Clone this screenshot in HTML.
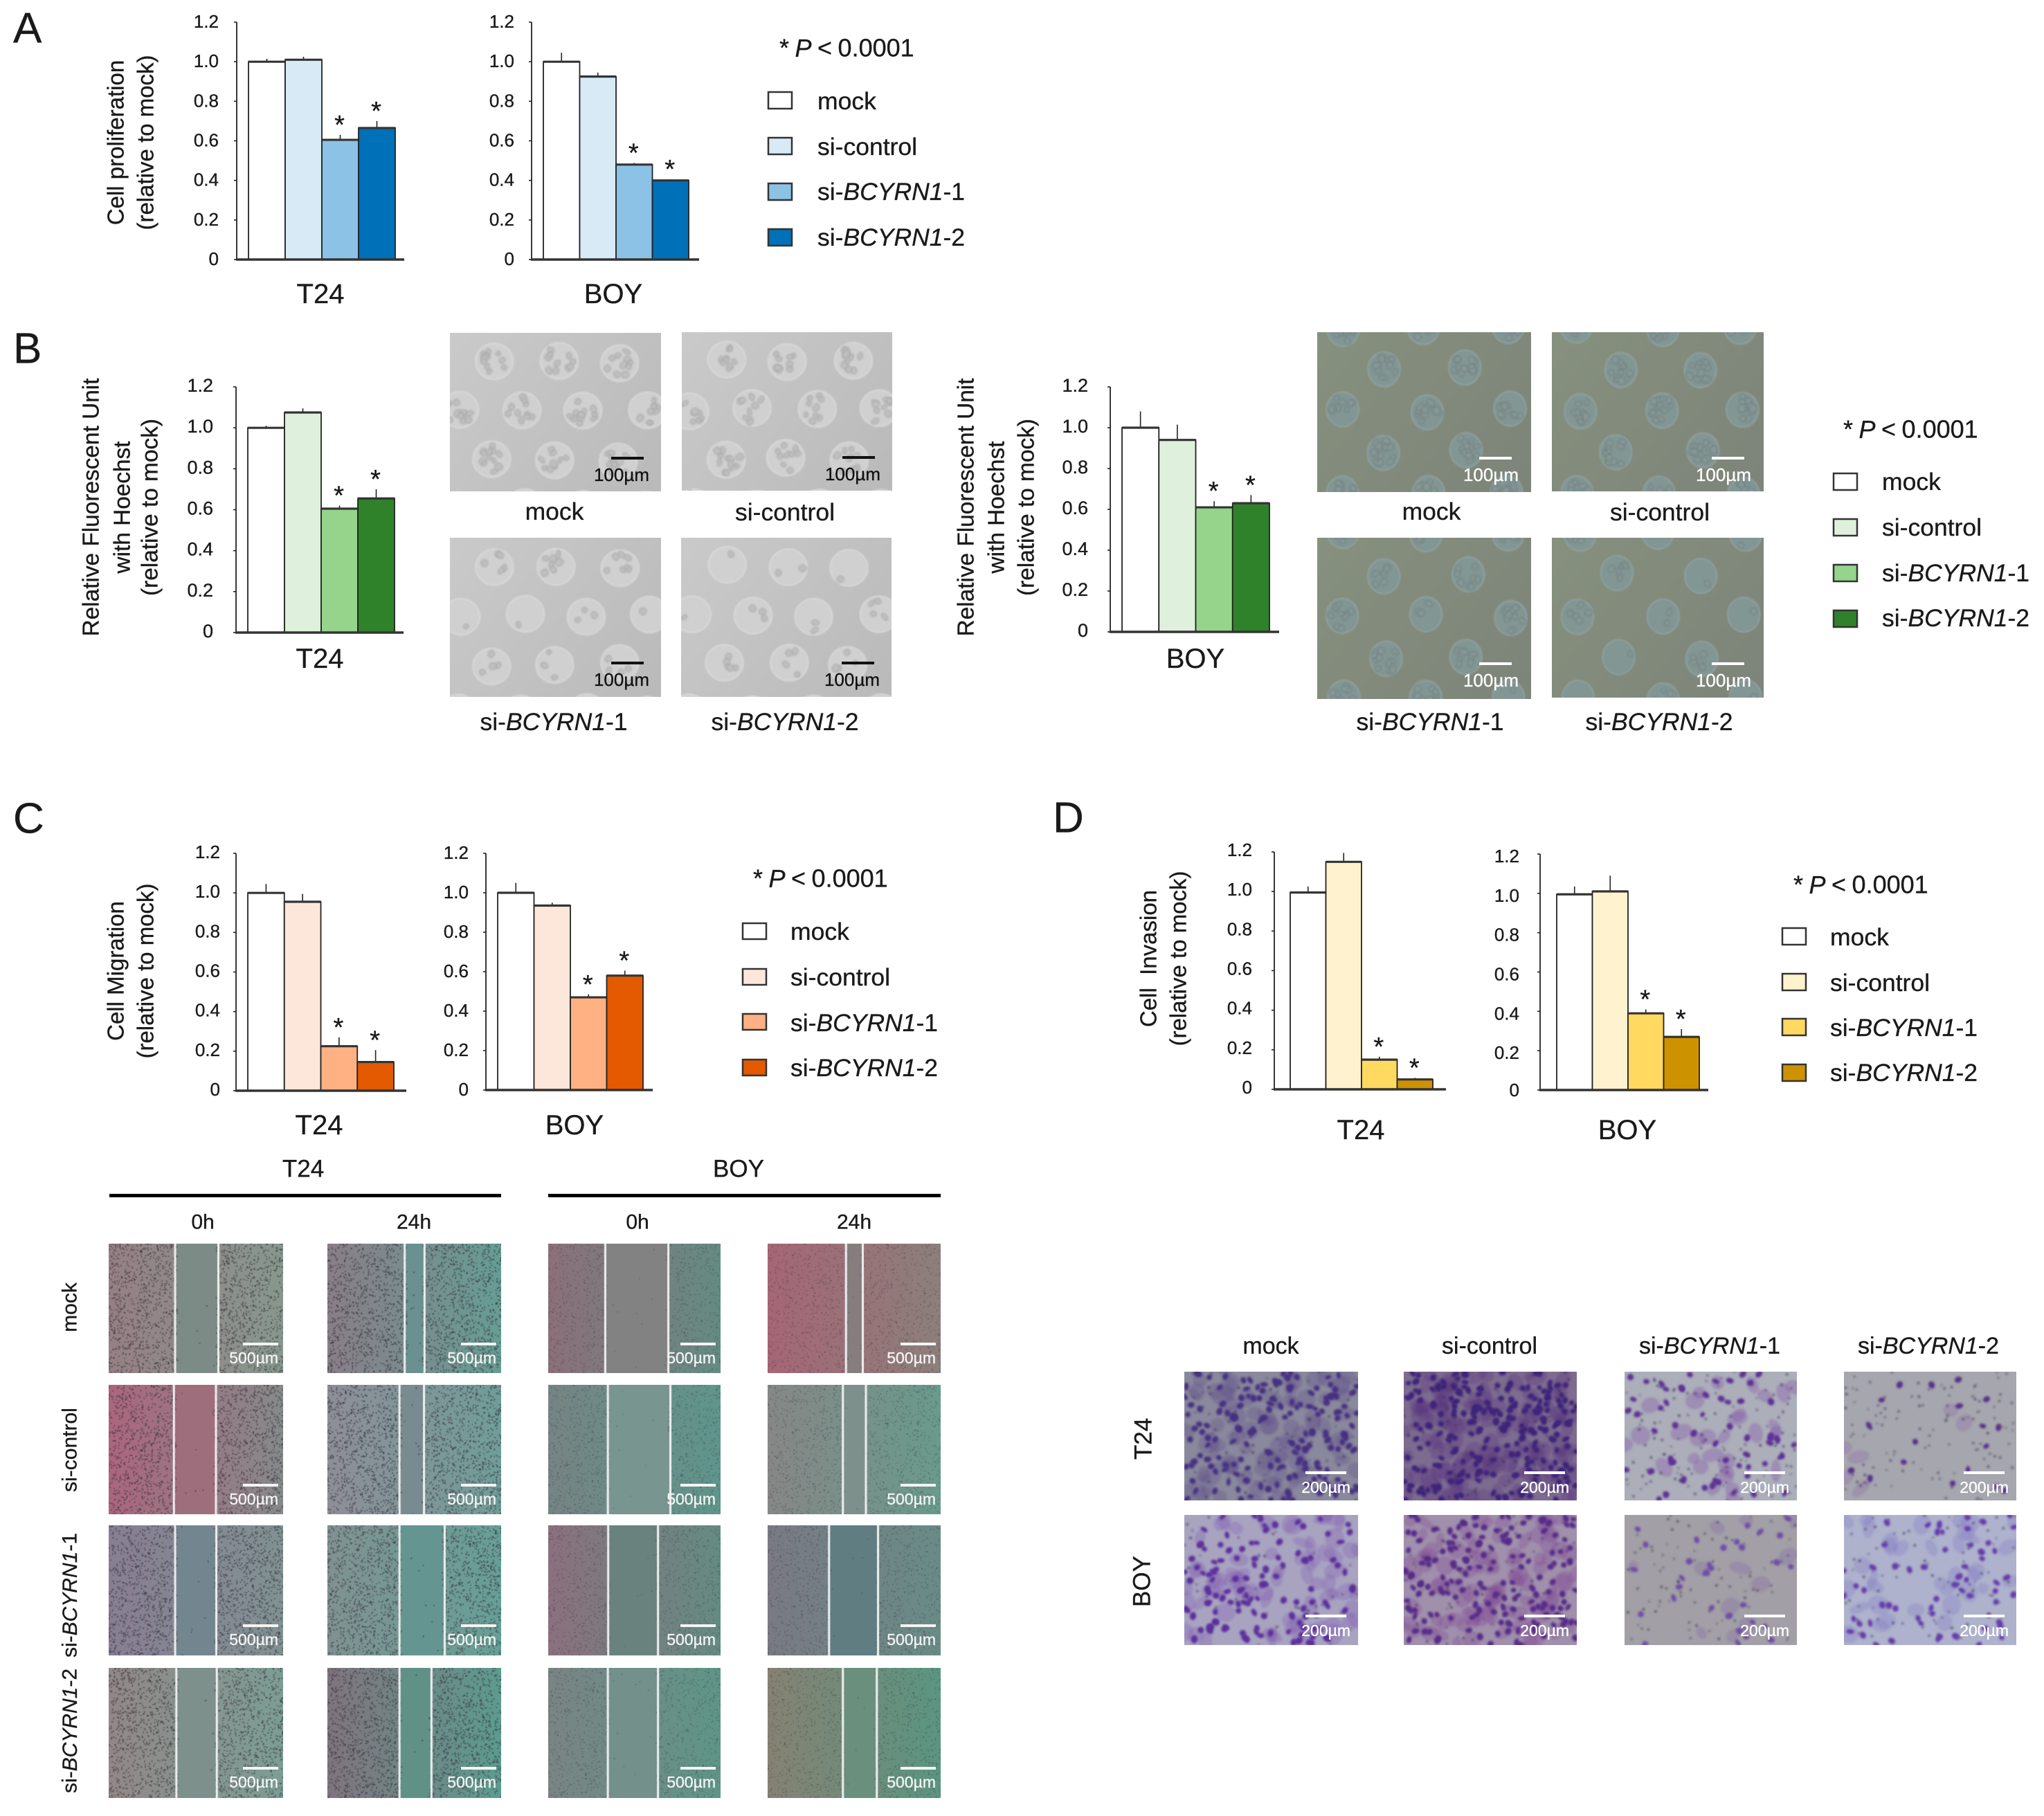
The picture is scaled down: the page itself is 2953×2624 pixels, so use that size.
<!DOCTYPE html>
<html lang="en">
<head>
<meta charset="utf-8">
<title>BCYRN1 knockdown figure</title>
<style>
html,body{margin:0;padding:0;background:#fff;}
#figure{position:relative;width:2953px;height:2624px;overflow:hidden;background:#fff;font-family:"Liberation Sans",sans-serif;}
#figure canvas{position:absolute;display:block;}
#overlay{position:absolute;left:0;top:0;}
#overlay text{font-family:"Liberation Sans",sans-serif;fill:#1a1a1a;dominant-baseline:central;stroke:#1a1a1a;stroke-width:.35px;}
.letter{font-size:62px;}
.leg{font-size:35.5px;}
.pval{font-size:36px;word-spacing:-1.5px;}
.cap{font-size:35.5px;text-anchor:middle;}
.ytitle{font-size:33px;text-anchor:middle;}
.ytitle2{font-size:33.4px;text-anchor:middle;}
.cell{font-size:40px;text-anchor:middle;}
.hdr{font-size:35px;text-anchor:middle;}
.time{font-size:30px;text-anchor:middle;}
.row{font-size:30px;text-anchor:middle;}
.inv{font-size:34px;text-anchor:middle;}
.swatch{stroke:#333;stroke-width:2.5;}
</style>
</head>
<body>
<div id="figure">
<svg id="overlay" xmlns="http://www.w3.org/2000/svg" width="2953" height="2624" viewBox="0 0 2953 2624">
  <!-- Panel letters -->
  <text class="letter" x="19" y="41">A</text>
  <text class="letter" x="19" y="504">B</text>
  <text class="letter" x="19" y="1183">C</text>
  <text class="letter" x="1521" y="1182">D</text>

  <!-- Panel A titles -->
  <text class="ytitle" transform="rotate(-90 167 206)" x="167" y="206">Cell proliferation</text>
  <text class="ytitle" transform="rotate(-90 210 206)" x="210" y="206">(relative to mock)</text>
  <text class="cell" x="463" y="425">T24</text>
  <text class="cell" x="886" y="425">BOY</text>
  <g>
    <text class="pval" x="1126" y="69">* <tspan font-style="italic">P</tspan> &lt; 0.0001</text>
    <rect class="swatch" x="1110" y="133" width="34" height="24" fill="#ffffff"/>
    <rect class="swatch" x="1110" y="199" width="34" height="24" fill="#d9eaf7"/>
    <rect class="swatch" x="1110" y="265" width="34" height="24" fill="#8cc2e6"/>
    <rect class="swatch" x="1110" y="331" width="34" height="24" fill="#0070b8"/>
    <text class="leg" x="1181" y="146">mock</text>
    <text class="leg" x="1181" y="212">si-control</text>
    <text class="leg" x="1181" y="277">si-<tspan font-style="italic">BCYRN1</tspan>-1</text>
    <text class="leg" x="1181" y="343">si-<tspan font-style="italic">BCYRN1</tspan>-2</text>
  </g>

  <!-- Panel B titles -->
  <text class="ytitle2" transform="rotate(-90 132 733)" x="132" y="733">Relative Fluorescent Unit</text>
  <text class="ytitle2" transform="rotate(-90 177 733)" x="177" y="733">with Hoechst</text>
  <text class="ytitle2" transform="rotate(-90 217 733)" x="217" y="733">(relative to mock)</text>
  <text class="cell" x="462" y="952">T24</text>
  <text class="ytitle2" transform="rotate(-90 1396 733)" x="1396" y="733">Relative Fluorescent Unit</text>
  <text class="ytitle2" transform="rotate(-90 1440 733)" x="1440" y="733">with Hoechst</text>
  <text class="ytitle2" transform="rotate(-90 1483 733)" x="1483" y="733">(relative to mock)</text>
  <text class="cell" x="1727" y="952">BOY</text>
  <text class="cap" x="801" y="739">mock</text>
  <text class="cap" x="1134" y="740">si-control</text>
  <text class="cap" x="800" y="1043">si-<tspan font-style="italic">BCYRN1</tspan>-1</text>
  <text class="cap" x="1134" y="1043">si-<tspan font-style="italic">BCYRN1</tspan>-2</text>
  <text class="cap" x="2068" y="739">mock</text>
  <text class="cap" x="2398" y="740">si-control</text>
  <text class="cap" x="2066" y="1043">si-<tspan font-style="italic">BCYRN1</tspan>-1</text>
  <text class="cap" x="2397" y="1043">si-<tspan font-style="italic">BCYRN1</tspan>-2</text>
  <g>
    <text class="pval" x="2663" y="620">* <tspan font-style="italic">P</tspan> &lt; 0.0001</text>
    <rect class="swatch" x="2649" y="684" width="34" height="24" fill="#ffffff"/>
    <rect class="swatch" x="2649" y="750" width="34" height="24" fill="#dff0dc"/>
    <rect class="swatch" x="2649" y="816" width="34" height="24" fill="#96d48c"/>
    <rect class="swatch" x="2649" y="882" width="34" height="24" fill="#2f8229"/>
    <text class="leg" x="2719" y="696">mock</text>
    <text class="leg" x="2719" y="762">si-control</text>
    <text class="leg" x="2719" y="828">si-<tspan font-style="italic">BCYRN1</tspan>-1</text>
    <text class="leg" x="2719" y="893">si-<tspan font-style="italic">BCYRN1</tspan>-2</text>
  </g>

  <!-- Panel C titles -->
  <text class="ytitle" transform="rotate(-90 167 1403)" x="167" y="1403">Cell Migration</text>
  <text class="ytitle" transform="rotate(-90 210 1403)" x="210" y="1403">(relative to mock)</text>
  <text class="cell" x="461" y="1626">T24</text>
  <text class="cell" x="830" y="1626">BOY</text>
  <g>
    <text class="pval" x="1088" y="1269">* <tspan font-style="italic">P</tspan> &lt; 0.0001</text>
    <rect class="swatch" x="1073" y="1334" width="34" height="23" fill="#ffffff"/>
    <rect class="swatch" x="1073" y="1400" width="34" height="23" fill="#fde7da"/>
    <rect class="swatch" x="1073" y="1465" width="34" height="23" fill="#ffb183"/>
    <rect class="swatch" x="1073" y="1531" width="34" height="23" fill="#e35a00"/>
    <text class="leg" x="1142" y="1346">mock</text>
    <text class="leg" x="1142" y="1412">si-control</text>
    <text class="leg" x="1142" y="1478">si-<tspan font-style="italic">BCYRN1</tspan>-1</text>
    <text class="leg" x="1142" y="1543">si-<tspan font-style="italic">BCYRN1</tspan>-2</text>
  </g>
  <text class="hdr" x="438" y="1689">T24</text>
  <text class="hdr" x="1067" y="1689">BOY</text>
  <rect x="158" y="1725" width="566" height="5" fill="#000"/>
  <rect x="792" y="1725" width="567" height="5" fill="#000"/>
  <text class="time" x="293" y="1766">0h</text>
  <text class="time" x="598" y="1766">24h</text>
  <text class="time" x="921" y="1766">0h</text>
  <text class="time" x="1234" y="1766">24h</text>
  <text class="row" transform="rotate(-90 101 1889)" x="101" y="1889">mock</text>
  <text class="row" transform="rotate(-90 101 2095)" x="101" y="2095">si-control</text>
  <text class="row" transform="rotate(-90 101 2305)" x="101" y="2305">si-<tspan font-style="italic">BCYRN1</tspan>-1</text>
  <text class="row" transform="rotate(-90 101 2501)" x="101" y="2501">si-<tspan font-style="italic">BCYRN1</tspan>-2</text>

  <!-- Panel D titles -->
  <text class="ytitle" transform="rotate(-90 1659 1385)" x="1659" y="1385" xml:space="preserve">Cell  Invasion</text>
  <text class="ytitle" transform="rotate(-90 1702 1385)" x="1702" y="1385">(relative to mock)</text>
  <text class="cell" x="1966" y="1633">T24</text>
  <text class="cell" x="2351" y="1633">BOY</text>
  <g>
    <text class="pval" x="2591" y="1278">* <tspan font-style="italic">P</tspan> &lt; 0.0001</text>
    <rect class="swatch" x="2575" y="1341" width="34" height="24" fill="#ffffff"/>
    <rect class="swatch" x="2575" y="1407" width="34" height="24" fill="#fff3cf"/>
    <rect class="swatch" x="2575" y="1472" width="34" height="24" fill="#ffd960"/>
    <rect class="swatch" x="2575" y="1538" width="34" height="24" fill="#cc9200"/>
    <text class="leg" x="2644" y="1354">mock</text>
    <text class="leg" x="2644" y="1420">si-control</text>
    <text class="leg" x="2644" y="1485">si-<tspan font-style="italic">BCYRN1</tspan>-1</text>
    <text class="leg" x="2644" y="1550">si-<tspan font-style="italic">BCYRN1</tspan>-2</text>
  </g>
  <text class="inv" x="1836" y="1945">mock</text>
  <text class="inv" x="2152" y="1945">si-control</text>
  <text class="inv" x="2470" y="1945">si-<tspan font-style="italic">BCYRN1</tspan>-1</text>
  <text class="inv" x="2786" y="1945">si-<tspan font-style="italic">BCYRN1</tspan>-2</text>
  <text class="hdr" transform="rotate(-90 1652 2079)" x="1652" y="2079">T24</text>
  <text class="hdr" transform="rotate(-90 1650 2285)" x="1650" y="2285">BOY</text>
  <g id="charts"></g>
  <g id="scalebars"></g>
</svg>
</div>

<script>
/* ---------- chart data ---------- */
const categories = ['mock', 'si-control', 'si-BCYRN1-1', 'si-BCYRN1-2'];
const tickLabels = ['0', '0.2', '0.4', '0.6', '0.8', '1.0', '1.2'];
const significant = [false, false, true, true];

const proliferationT24Values = [1.0, 1.01, 0.605, 0.665];
const proliferationT24Errors = [0.015, 0.015, 0.025, 0.035];
const proliferationBoyValues = [1.0, 0.925, 0.48, 0.40];
const proliferationBoyErrors = [0.045, 0.02, 0.008, 0.005];

const hoechstT24Values = [1.0, 1.075, 0.605, 0.655];
const hoechstT24Errors = [0.01, 0.02, 0.015, 0.045];
const hoechstBoyValues = [1.0, 0.94, 0.61, 0.63];
const hoechstBoyErrors = [0.08, 0.075, 0.03, 0.04];

const migrationT24Values = [1.0, 0.955, 0.225, 0.145];
const migrationT24Errors = [0.045, 0.04, 0.045, 0.06];
const migrationBoyValues = [1.0, 0.935, 0.47, 0.58];
const migrationBoyErrors = [0.05, 0.015, 0.015, 0.025];

const invasionT24Values = [0.995, 1.15, 0.15, 0.05];
const invasionT24Errors = [0.03, 0.045, 0.015, 0.008];
const invasionBoyValues = [0.995, 1.01, 0.39, 0.27];
const invasionBoyErrors = [0.04, 0.08, 0.02, 0.04];

const blueFills = ['#ffffff', '#d9eaf7', '#8cc2e6', '#0070b8'];
const greenFills = ['#ffffff', '#dff0dc', '#96d48c', '#2f8229'];
const orangeFills = ['#ffffff', '#fde7da', '#ffb183', '#e35a00'];
const yellowFills = ['#ffffff', '#fff3cf', '#ffd960', '#cc9200'];

/* ---------- svg helpers ---------- */
const SVGNS = 'http://www.w3.org/2000/svg';
function svgEl(tag, attrs, parent) {
  const e = document.createElementNS(SVGNS, tag);
  for (const k in attrs) e.setAttribute(k, attrs[k]);
  parent.appendChild(e);
  return e;
}

/* ---------- bar chart built through axis functions ---------- */
function drawBarChart(name, frame, values, errors, fills) {
  const root = document.getElementById('charts');
  const group = svgEl('g', {}, root);
  
  

  const axisMax = Number(tickLabels[tickLabels.length - 1]);
  const yScale = v => frame.base - (v / axisMax) * (frame.base - frame.top);
  const xBand = i => frame.barStart + i * (frame.barEnd - frame.barStart) / categories.length;
  const bandW = (frame.barEnd - frame.barStart) / categories.length;

  categories.forEach((cat, i) => {
    const top = yScale(values[i]);
    const errLine = svgEl('line', {
      x1: xBand(i) + bandW / 2, x2: xBand(i) + bandW / 2,
      y1: top, y2: yScale(values[i] + errors[i]),
      stroke: '#222', 'stroke-width': 1.6
    }, group);
    
    

    const bar = svgEl('rect', {
      x: xBand(i), y: top, width: bandW, height: frame.base - top,
      fill: fills[i], stroke: '#222', 'stroke-width': 1.8
    }, group);
    
    

    const cap = svgEl('line', {
      x1: xBand(i), x2: xBand(i) + bandW, y1: top, y2: top,
      stroke: '#333', 'stroke-width': 3.2
    }, group);
    
    

    if (significant[i]) {
      const star = svgEl('text', {
        x: xBand(i) + bandW / 2 - 1,
        y: yScale(values[i] + errors[i]) - 22 + 8,
        'text-anchor': 'middle', 'font-size': 38
      }, group);
      star.textContent = '*';
      
      
    }
  });

  const yAxis = svgEl('line', {
    x1: frame.axisX, x2: frame.axisX, y1: frame.top, y2: frame.base,
    stroke: '#222', 'stroke-width': 1.8
  }, group);
  
  

  const xAxis = svgEl('line', {
    x1: frame.axisX - 1, x2: frame.axisEnd, y1: frame.base, y2: frame.base,
    stroke: '#333', 'stroke-width': 3.6
  }, group);
  
  

  tickLabels.forEach(label => {
    const v = Number(label);
    const tick = svgEl('line', {
      x1: frame.axisX - 4, x2: frame.axisX, y1: yScale(v), y2: yScale(v),
      stroke: '#222', 'stroke-width': 1.6
    }, group);
    
    

    const txt = svgEl('text', {
      x: frame.labelRight, y: yScale(v) + (v > 0 ? frame.labelDy : Math.min(frame.labelDy, 0)),
      'text-anchor': 'end', 'font-size': frame.tickSize
    }, group);
    txt.textContent = label;
    
    
  });
}

drawBarChart('proliferation-t24', {axisX:342, axisEnd:584, top:32, base:375, barStart:359, barEnd:571, labelRight:316, tickSize:26, labelDy:-1}, proliferationT24Values, proliferationT24Errors, blueFills);
drawBarChart('proliferation-boy', {axisX:768, axisEnd:1010, top:32, base:375, barStart:785, barEnd:995, labelRight:743, tickSize:26, labelDy:-1}, proliferationBoyValues, proliferationBoyErrors, blueFills);
drawBarChart('hoechst-t24', {axisX:341, axisEnd:583, top:559, base:914, barStart:358, barEnd:570, labelRight:308, tickSize:27, labelDy:-2}, hoechstT24Values, hoechstT24Errors, greenFills);
drawBarChart('hoechst-boy', {axisX:1604, axisEnd:1848, top:559, base:913, barStart:1621, barEnd:1834, labelRight:1572, tickSize:27, labelDy:-2}, hoechstBoyValues, hoechstBoyErrors, greenFills);
drawBarChart('migration-t24', {axisX:341, axisEnd:587, top:1233, base:1576, barStart:358, barEnd:569, labelRight:318, tickSize:26, labelDy:-2}, migrationT24Values, migrationT24Errors, orangeFills);
drawBarChart('migration-boy', {axisX:702, axisEnd:943, top:1233, base:1575, barStart:719, barEnd:929, labelRight:677, tickSize:26, labelDy:-1}, migrationBoyValues, migrationBoyErrors, orangeFills);
drawBarChart('invasion-t24', {axisX:1841, axisEnd:2089, top:1231, base:1574, barStart:1864, barEnd:2070, labelRight:1809, tickSize:26, labelDy:-3}, invasionT24Values, invasionT24Errors, yellowFills);
drawBarChart('invasion-boy', {axisX:2225, axisEnd:2468, top:1234, base:1575, barStart:2249, barEnd:2455, labelRight:2195, tickSize:26, labelDy:3}, invasionBoyValues, invasionBoyErrors, yellowFills);

/* ---------- micrograph imitations (decorative texture, not chart data) ---------- */
function seeded(seed) {
  let s = seed >>> 0;
  return function () {
    s = (s + 0x6D2B79F5) >>> 0;
    let t = s;
    t = Math.imul(t ^ (t >>> 15), t | 1);
    t ^= t + Math.imul(t ^ (t >>> 7), t | 61);
    return ((t ^ (t >>> 14)) >>> 0) / 4294967296;
  };
}
function makeCanvas(name, x, y, w, h) {
  const c = document.createElement('canvas');
  c.width = w; c.height = h;
  c.style.left = x + 'px'; c.style.top = y + 'px';
  
  
  document.getElementById('figure').insertBefore(c, document.getElementById('overlay'));
  return c.getContext('2d');
}
function rgb(a) { return 'rgb(' + a[0] + ',' + a[1] + ',' + a[2] + ')'; }

function scaleBar(name, x, y, w, barRight, barWidth, barDy, textRight, textDy, size, label, color) {
  const root = document.getElementById('scalebars');
  const bar = svgEl('rect', {x: x + w - barRight - barWidth, y: y + barDy - 2, width: barWidth, height: 4, fill: color}, root);
  
  
  const t = svgEl('text', {x: x + w - textRight, y: y + textDy, 'text-anchor': 'end', 'font-size': size, style: 'fill:' + color + ';stroke:' + color}, root);
  t.textContent = label;
  
  
}

/* Panel B: micropatterned wells */
function wellImage(name, x, y, w, h, o, seed) {
  const ctx = makeCanvas(name, x, y, w, h);
  const r = seeded(seed);
  const g = ctx.createLinearGradient(0, 0, w, h);
  g.addColorStop(0, rgb(o.bgA)); g.addColorStop(1, rgb(o.bgB));
  ctx.fillStyle = g; ctx.fillRect(0, 0, w, h);
  ctx.filter = 'blur(1.1px)';
  for (let row = 0; row * o.rowGap + o.y0 < h + o.ry; row++) {
    const cy = o.y0 + row * o.rowGap;
    const start = row % 2 ? o.x1 : o.x0;
    for (let cx = start; cx < w + o.rx; cx += o.colGap) {
      const cxj = cx + (r() - 0.5) * 8, cyj = cy + (r() - 0.5) * 6;
      ctx.beginPath(); ctx.ellipse(cxj, cyj, o.rx, o.ry, 0, 0, Math.PI * 2);
      ctx.fillStyle = rgb(o.well); ctx.fill();
      ctx.lineWidth = 2; ctx.strokeStyle = rgb(o.ring); ctx.stroke();
      const n = Math.round(o.cellsMin + r() * (o.cellsMax - o.cellsMin));
      for (let k = 0; k < n; k++) {
        const a = r() * 6.283, d = Math.sqrt(r()) * 0.78;
        ctx.beginPath();
        ctx.ellipse(cxj + Math.cos(a) * d * o.rx, cyj + Math.sin(a) * d * o.ry, 3.5 + r() * 2.5, 2.8 + r() * 2.5, r() * 3, 0, 6.283);
        ctx.fillStyle = rgb(o.cell); ctx.fill();
        ctx.lineWidth = 1; ctx.strokeStyle = rgb(o.edge); ctx.stroke();
      }
    }
  }
  ctx.filter = 'none';
}
const greyWell = {bgA:[202,202,202], bgB:[186,186,186], well:[208,208,208], ring:[220,220,220], cell:[192,192,192], edge:[158,158,158],
  rx:27, ry:26, colGap:90, rowGap:71, x0:64, x1:15, y0:41};
const oliveWell = {bgA:[135,145,126], bgB:[125,132,122], well:[130,150,148], ring:[146,164,164], cell:[135,152,150], edge:[108,125,125],
  rx:23, ry:25, colGap:119, rowGap:60, x0:38, x1:96, y0:-7};
const wellSet = [
  ['b-t24-mock-micrograph', 650, 481, 305, 229, greyWell, 8, 13, 11, 0],
  ['b-t24-si-control-micrograph', 985, 480, 304, 229, greyWell, 8, 13, 22, 0],
  ['b-t24-si-bcyrn1-1-micrograph', 650, 777, 305, 230, greyWell, 0, 8, 33, 0],
  ['b-t24-si-bcyrn1-2-micrograph', 984, 777, 304, 230, greyWell, 0, 7, 44, 0],
  ['b-boy-mock-micrograph', 1903, 480, 309, 231, oliveWell, 10, 15, 55, 1],
  ['b-boy-si-control-micrograph', 2242, 480, 306, 230, oliveWell, 10, 15, 66, 1],
  ['b-boy-si-bcyrn1-1-micrograph', 1903, 777, 309, 233, oliveWell, 0, 13, 77, 1],
  ['b-boy-si-bcyrn1-2-micrograph', 2242, 777, 306, 231, oliveWell, 0, 8, 88, 1]
];
wellSet.forEach(s => {
  const o = Object.assign({}, s[5], {cellsMin: s[6], cellsMax: s[7]});
  wellImage(s[0], s[1], s[2], s[3], s[4], o, s[8]);
  const bright = s[9] === 1;
  scaleBar(s[0], s[1], s[2], s[3], bright ? 28 : 25, 47, bright ? 182 : 181, bright ? 18 : 17, bright ? 206 : 205, 26, '100µm', bright ? '#ffffff' : '#111111');
});

/* Panel C: wound-healing */
function woundImage(name, x, y, w, h, o, seed) {
  const ctx = makeCanvas(name, x, y, w, h);
  const r = seeded(seed);
  const g = ctx.createLinearGradient(0, 0, w, 0);
  g.addColorStop(0, rgb(o.left)); g.addColorStop(1, rgb(o.right));
  ctx.fillStyle = g; ctx.fillRect(0, 0, w, h);
  const a = o.cut[0] * w, b = o.cut[1] * w;
  ctx.fillStyle = rgb(o.gap.map(c => Math.round(c * 0.96))); ctx.fillRect(a, 0, b - a, h);
  const n = o.dense;
  ctx.filter = 'blur(0.6px)';
  for (let i = 0; i < n; i++) {
    const px = r() * w, py = r() * h;
    if (px > a + 3 && px < b - 3 && r() > 0.02) continue;
    ctx.beginPath();
    ctx.ellipse(px, py, o.dot + r() * o.dot * 0.7, o.dot * 0.7 + r() * 0.4, r() * 3, 0, 6.283);
    ctx.fillStyle = 'rgba(58,52,64,' + o.alpha + ')';
    ctx.fill();
  }
  ctx.filter = 'none';
  ctx.fillStyle = '#f2f2f2';
  ctx.fillRect(a - 1.5, 0, 3, h);
  ctx.fillRect(b - 1.5, 0, 3, h);
}
const woundCols = [{x:157, w:252}, {x:473, w:251}, {x:792, w:249}, {x:1109, w:250}];
const woundRows = [{y:1797, h:187}, {y:2001, h:187}, {y:2204, h:188}, {y:2410, h:188}];
const woundRowNames = ['mock', 'si-control', 'si-bcyrn1-1', 'si-bcyrn1-2'];
const woundColNames = ['t24-0h', 't24-24h', 'boy-0h', 'boy-24h'];
const woundLook = [
  [ {left:[150,128,132], gap:[130,145,140], right:[135,152,142], cut:[.381,.629]},
    {left:[172,102,126], gap:[165,115,130], right:[134,138,138], cut:[.374,.615]},
    {left:[136,126,146], gap:[120,140,150], right:[128,146,146], cut:[.381,.617]},
    {left:[146,136,136], gap:[130,150,145], right:[124,158,148], cut:[.388,.620]} ],
  [ {left:[138,126,136], gap:[110,150,150], right:[102,158,148], cut:[.445,.559]},
    {left:[142,142,152], gap:[125,145,150], right:[112,158,152], cut:[.415,.556]},
    {left:[128,146,146], gap:[105,155,150], right:[102,160,150], cut:[.415,.675]},
    {left:[128,116,126], gap:[100,150,140], right:[92,156,142],  cut:[.415,.599]} ],
  [ {left:[140,112,122], gap:[135,135,135], right:[100,140,130], cut:[.331,.697]},
    {left:[118,132,132], gap:[125,155,150], right:[95,150,140],  cut:[.346,.709]},
    {left:[140,112,126], gap:[110,135,130], right:[100,140,130], cut:[.348,.637]},
    {left:[122,132,132], gap:[120,150,145], right:[95,150,135],  cut:[.346,.637]} ],
  [ {left:[166,102,118], gap:[140,130,130], right:[140,128,124], cut:[.453,.550]},
    {left:[135,135,135], gap:[130,150,145], right:[105,155,140], cut:[.435,.568]},
    {left:[122,122,132], gap:[100,130,135], right:[105,140,135], cut:[.355,.638]},
    {left:[135,130,115], gap:[110,150,130], right:[90,150,130],  cut:[.435,.631]} ]
];
woundCols.forEach((col, c) => {
  woundRows.forEach((row, ro) => {
    const look = Object.assign({}, woundLook[c][ro], {
      dense: c < 2 ? 2200 : 1600,
      dot: c < 2 ? 1.05 : 0.75,
      alpha: c < 2 ? 0.55 : 0.38
    });
    const nm = 'wound-' + woundColNames[c] + '-' + woundRowNames[ro] + '-micrograph';
    woundImage(nm, col.x, row.y, col.w, row.h, look, 100 + c * 10 + ro);
    scaleBar(nm, col.x, row.y, col.w, 7, 51, 145, 7, 165, 23, '500µm', '#f4f4f4');
  });
});

/* Panel D: invasion */
function invasionImage(name, x, y, w, h, o, seed) {
  const ctx = makeCanvas(name, x, y, w, h);
  const r = seeded(seed);
  ctx.fillStyle = rgb(o.bg); ctx.fillRect(0, 0, w, h);
  ctx.filter = 'blur(1.5px)';
  for (let i = 0; i < o.haze; i++) {
    ctx.beginPath();
    ctx.ellipse(r() * w, r() * h, 8 + r() * 9, 6 + r() * 8, r() * 3, 0, 6.283);
    ctx.fillStyle = 'rgba(' + o.hazeCol + ',0.3)';
    ctx.fill();
  }
  for (let i = 0; i < o.specks; i++) {
    ctx.beginPath();
    ctx.arc(r() * w, r() * h, 1 + r() * 0.8, 0, 6.283);
    ctx.fillStyle = 'rgba(50,40,70,0.8)';
    ctx.fill();
  }
  for (let i = 0; i < o.nuclei; i++) {
    ctx.beginPath();
    ctx.ellipse(r() * w, r() * h, 3 + r() * 1.8, 3.8 + r() * 2.2, r() * 3, 0, 6.283);
    ctx.fillStyle = rgb(o.nucleus);
    ctx.fill();
  }
  ctx.filter = 'none';
}
const invCols = [{x:1711, w:251}, {x:2028, w:250}, {x:2347, w:249}, {x:2664, w:249}];
const invRows = [{y:1982, h:186}, {y:2189, h:188}];
const invRowNames = ['t24', 'boy'];
const invColNames = ['mock', 'si-control', 'si-bcyrn1-1', 'si-bcyrn1-2'];
const invLook = [
  [ {bg:[138,136,156], haze:90,  hazeCol:'95,80,140',  specks:60,  nuclei:175, nucleus:[70,50,130]},
    {bg:[126,108,144], haze:130, hazeCol:'85,50,125',  specks:70,  nuclei:230, nucleus:[62,36,122]},
    {bg:[172,174,186], haze:30,  hazeCol:'125,70,170', specks:120, nuclei:60,  nucleus:[95,50,150]},
    {bg:[166,166,174], haze:6,   hazeCol:'140,100,170',specks:110, nuclei:18,  nucleus:[88,50,140]} ],
  [ {bg:[168,164,192], haze:70,  hazeCol:'130,90,180', specks:40,  nuclei:120, nucleus:[92,48,156]},
    {bg:[160,144,172], haze:95,  hazeCol:'130,70,150', specks:70,  nuclei:170, nucleus:[86,44,136]},
    {bg:[162,160,166], haze:12,  hazeCol:'130,100,170',specks:90,  nuclei:32,  nucleus:[112,78,168]},
    {bg:[174,178,204], haze:35,  hazeCol:'130,120,200',specks:90,  nuclei:60,  nucleus:[102,62,172]} ]
];
invCols.forEach((col, c) => {
  invRows.forEach((row, ro) => {
    const nm = 'invasion-' + invRowNames[ro] + '-' + invColNames[c] + '-micrograph';
    invasionImage(nm, col.x, row.y, col.w, row.h, invLook[ro][c], 500 + c * 10 + ro);
    scaleBar(nm, col.x, row.y, col.w, 17, 59, 146, 11, 167, 23, '200µm', '#ffffff');
  });
});
</script>
</body>
</html>
